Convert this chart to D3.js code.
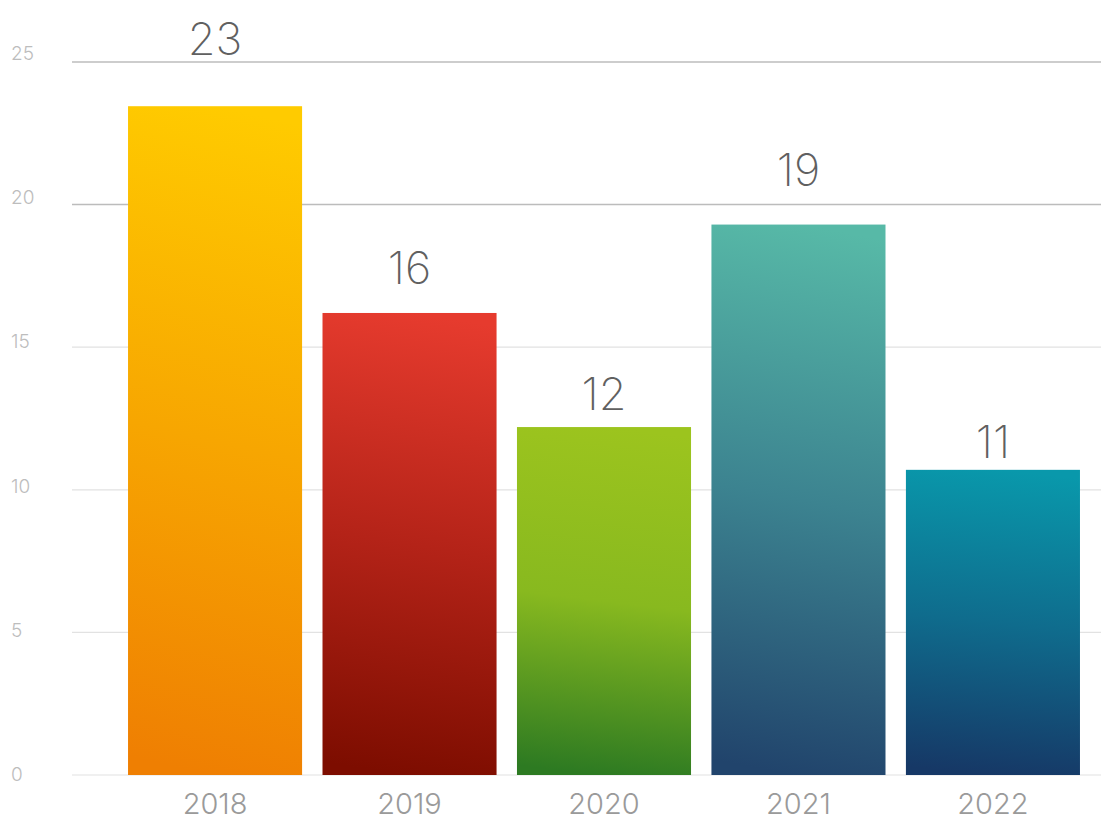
<!DOCTYPE html>
<html>
<head>
<meta charset="utf-8">
<script src="https://cdn.jsdelivr.net/npm/d3@7"></script>
<style>
  body { margin: 0; background: #fff; }
  svg { display: block; font-family: Inter, Roboto, "Noto Sans", sans-serif; }
</style>
</head>
<body>
<div id="chart"></div>
<script>
// Chart values
var years = ["2018", "2019", "2020", "2021", "2022"];
var values = [23.45, 16.2, 12.2, 19.3, 10.7];
var yTicks = [0, 5, 10, 15, 20, 25];
var topColors = ["#ffcb00", "#e63b2e", "#9cc41e", "#57b9a7", "#0998ab"];
var midColors = ["#f7a601", "#b42318", "#88b91f", "#3c8390", "#0f6c8d"];
var bottomColors = ["#ef7f02", "#7d0d00", "#2d7a22", "#21446c", "#163866"];

var width = 1101, height = 821;

var svg = d3.select("#chart")
    .append("svg")
    .attr("width", width)
    .attr("height", height);

// scales
var x = d3.scaleBand()
    .domain(years)
    .range([108, 1100])
    .paddingInner(0.105)
    .paddingOuter(0.103);

var y = d3.scaleLinear()
    .domain([0, 25])
    .range([775, 62]);

// tick labels and value labels sit on slightly different spacing in the original
var yLabel = y.copy().range([781, 60]);
var valueLabel = y.copy().range([796, 6]);

// gradients (nearly vertical, a touch of tilt)
var defs = svg.append("defs");
years.forEach(function (yr, i) {
    var g = defs.append("linearGradient")
        .attr("id", "grad" + i)
        .attr("x1", 0.47).attr("y1", 1)
        .attr("x2", 0.53).attr("y2", 0);
    g.append("stop").attr("offset", "0%").attr("stop-color", bottomColors[i]);
    g.append("stop").attr("offset", "50%").attr("stop-color", midColors[i]);
    g.append("stop").attr("offset", "100%").attr("stop-color", topColors[i]);
});

// grid lines
svg.append("g")
    .selectAll("line")
    .data(yTicks)
    .join("line")
    .attr("x1", 72)
    .attr("x2", width)
    .attr("y1", function (d) { return y(d); })
    .attr("y2", function (d) { return y(d); })
    .attr("stroke", function (d) { return d >= 20 ? "#bcbcbc" : "#e2e2e2"; })
    .attr("stroke-width", function (d) { return d >= 20 ? 1.5 : 1.2; });

// y tick labels
svg.append("g")
    .selectAll("text")
    .data(yTicks)
    .join("text")
    .attr("x", 11)
    .attr("y", function (d) { return yLabel(d); })
    .attr("fill", "#bdbdbd")
    .style("font-size", "19px")
    .style("font-weight", 300)
    .text(function (d) { return d; });

// bars
svg.append("g")
    .selectAll("rect")
    .data(values)
    .join("rect")
    .attr("x", function (d, i) { return x(years[i]); })
    .attr("y", function (d) { return y(d); })
    .attr("width", x.bandwidth())
    .attr("height", function (d) { return y(0) - y(d); })
    .attr("fill", function (d, i) { return "url(#grad" + i + ")"; });

// value labels
svg.append("g")
    .selectAll("text")
    .data(values)
    .join("text")
    .attr("x", function (d, i) { return x(years[i]) + x.bandwidth() / 2; })
    .attr("y", function (d) { return valueLabel(d); })
    .attr("text-anchor", "middle")
    .attr("fill", "#606060")
    .style("font-size", "45px")
    .style("font-weight", 200)
    .text(function (d) { return Math.round(d); });

// x labels
svg.append("g")
    .selectAll("text")
    .data(years)
    .join("text")
    .attr("x", function (d) { return x(d) + x.bandwidth() / 2; })
    .attr("y", 814)
    .attr("text-anchor", "middle")
    .attr("fill", "#9a9a9a")
    .style("font-size", "29px")
    .style("font-weight", 300)
    .text(function (d) { return d; });
</script>
</body>
</html>
